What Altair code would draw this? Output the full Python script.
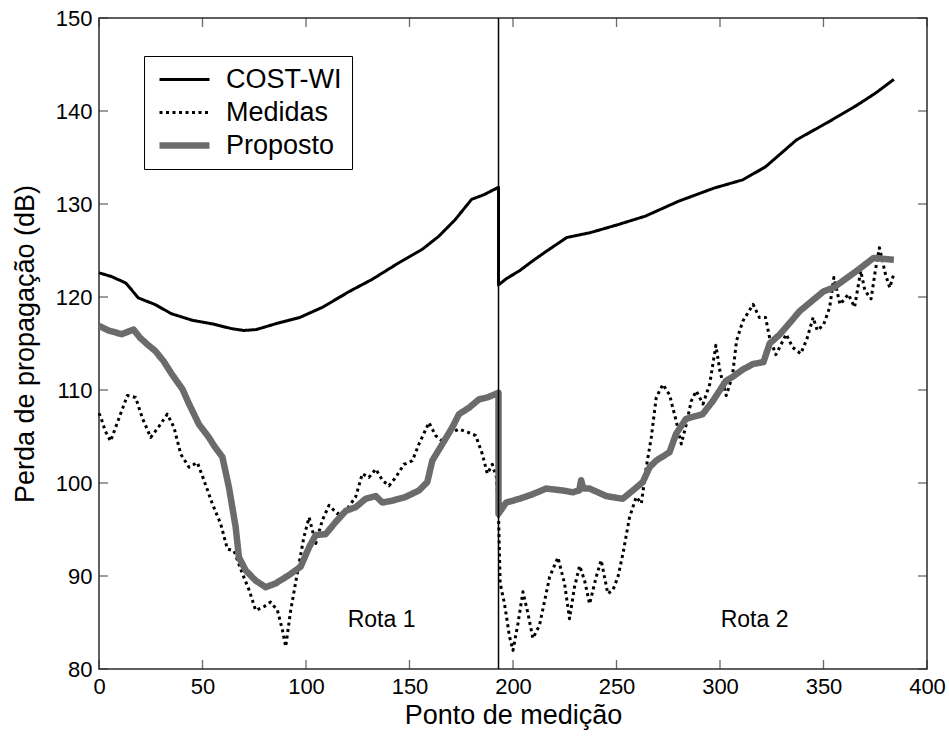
import altair as alt
import pandas as pd

# ---------------- data ----------------
series_names = ["COST-WI", "Medidas", "Proposto"]

cost_x = [0, 6, 13, 19, 27, 35, 45, 55, 64, 70, 76, 85, 97, 108, 121, 132, 145, 156, 164, 172,
          180, 186, 193, 193, 197, 203, 209, 216, 226, 237, 251, 264, 280, 297, 311, 322, 337,
          353, 366, 375, 384]
cost_y = [122.6, 122.2, 121.5, 119.9, 119.2, 118.2, 117.5, 117.1, 116.6, 116.4, 116.5, 117.1,
          117.8, 118.9, 120.6, 121.9, 123.7, 125.1, 126.5, 128.3, 130.5, 131.0, 131.8, 121.3,
          122.0, 122.8, 123.8, 124.9, 126.4, 126.9, 127.8, 128.7, 130.3, 131.7, 132.6, 134.0,
          136.9, 138.9, 140.6, 141.9, 143.4]

med_x = [0, 1, 3, 5.6, 9.7, 13.7, 17.7, 20.9, 25, 29, 33, 36.2, 39.5, 43.5, 47.5, 50.7, 54.7,
         58.8, 62, 65.2, 69.2, 72.5, 75.7, 79.7, 82.9, 86.2, 88.6, 90.2, 92.6, 95.8, 99, 101.5,
         104.7, 107.9, 111.1, 115.1, 119.2, 124, 127.2, 130.4, 133.7, 136.9, 140.1, 143.3,
         147.3, 151.4, 154.6, 159.4, 162.6, 165.9, 169.9, 173.9, 178.8, 182, 185.2, 187.6, 190,
         192, 193, 193.8, 195.9, 198.3, 200, 202.4, 204.8, 207.2, 209.6, 212.8, 217.7, 221.7,
         224.9, 227.3, 229.7, 232.2, 234.6, 237, 240.2, 242.6, 245.8, 248.3, 250.7, 253.1,
         256.3, 259.5, 262, 264.4, 266.8, 269.2, 272.4, 275.6, 278.8, 281.3, 283.7, 286.1,
         288.5, 291.8, 295, 298, 300, 303, 306, 308, 311, 316, 319, 322, 324, 327, 332, 335,
         339, 342, 345, 347, 350, 353, 355, 358, 362, 365, 368, 370, 373, 375, 377, 380, 382,
         384]
med_y = [107.5, 107.0, 105.6, 104.5, 107.0, 109.4, 109.2, 107.0, 104.9, 106.1, 107.4, 106.0,
         103.1, 101.7, 102.2, 100.3, 97.8, 95.6, 92.9, 92.7, 90.3, 88.5, 86.3, 86.7, 87.2, 86.3,
         84.2, 82.4, 86.3, 90.3, 94.2, 96.3, 93.5, 96.0, 97.6, 96.7, 97.0, 98.5, 101.0, 100.6,
         101.5, 100.3, 99.7, 100.6, 102.0, 102.4, 104.2, 106.5, 105.1, 104.5, 105.4, 105.8,
         105.4, 105.1, 103.1, 101.0, 102.0, 100.6, 96.7, 89.2, 87.0, 83.5, 82.0, 84.9, 88.3,
         86.0, 83.3, 84.7, 89.9, 92.0, 89.2, 85.4, 88.8, 91.1, 89.5, 87.0, 89.9, 91.7, 88.1,
         88.5, 89.9, 92.4, 96.3, 98.5, 97.8, 101.7, 104.9, 109.2, 110.6, 109.5, 106.7, 104.2,
         106.3, 108.8, 109.9, 108.5, 110.6, 114.8, 112.0, 109.4, 111.5, 115.3, 117.4, 119.2,
         117.8, 117.8, 115.6, 113.8, 116.0, 114.6, 113.9, 115.5, 117.8, 116.4, 117.0, 118.9,
         122.1, 119.2, 120.3, 118.9, 122.8, 120.7, 119.8, 122.8, 125.3, 122.4, 121.0, 122.5]

prop_x = [0, 4.6, 11, 16.7, 19.9, 23.9, 27.2, 31.2, 35.2, 40.3, 43.5, 48.3, 53.1, 55.6, 59.6,
          62.8, 66, 67.6, 70.9, 75.7, 80.5, 85.3, 91.8, 97.4, 101.5, 104.7, 109.5, 114.3, 119.2,
          124, 128.8, 133.7, 136.9, 141.7, 148.1, 154.6, 158.6, 161, 165.9, 170.7, 173.9, 178.8,
          183.6, 187.6, 193, 193, 196.7, 203.1, 209.6, 216, 224, 228.9, 232, 232.9, 234, 237,
          245, 253, 257.9, 262.7, 266, 269.1, 275.6, 278.8, 283.6, 291.6, 296.5, 302.9, 306,
          311, 316, 321, 324, 329, 338.6, 350, 354.8, 366, 374.2, 384]
prop_y = [116.9, 116.4, 116.0, 116.5, 115.6, 114.8, 114.2, 113.1, 111.7, 110.1, 108.5, 106.3,
          104.9, 104.0, 102.8, 99.5, 95.3, 92.0, 90.6, 89.5, 88.8, 89.2, 90.1, 91.0, 93.1, 94.4,
          94.5, 95.8, 97.0, 97.4, 98.3, 98.6, 97.9, 98.1, 98.5, 99.2, 100.1, 102.4, 104.2, 106.0,
          107.4, 108.1, 109.0, 109.2, 109.7, 96.7, 97.9, 98.3, 98.8, 99.4, 99.2, 99.0, 99.2,
          100.3, 99.4, 99.4, 98.6, 98.3, 99.2, 100.1, 101.7, 102.4, 103.3, 105.3, 106.9, 107.4,
          108.8, 111.0, 111.4, 112.2, 112.8, 113.0, 115.0, 116.0, 118.5, 120.6, 121.0, 122.8,
          124.2, 124.0]

x_ticks = [0, 50, 100, 150, 200, 250, 300, 350, 400]
y_ticks = [80, 90, 100, 110, 120, 130, 140, 150]
route_split = [193]
rota_labels = ["Rota 1", "Rota 2"]
rota_x = [136.5, 316.7]
rota_y = [85.3, 85.3]

# ---------------- build tables ----------------
line_widths = {"COST-WI": 3, "Medidas": 3, "Proposto": 6.5}
rows = []
for name, xs, ys in [("COST-WI", cost_x, cost_y), ("Medidas", med_x, med_y),
                     ("Proposto", prop_x, prop_y)]:
    for i, (a, b) in enumerate(zip(xs, ys)):
        rows.append({"serie": name, "ponto": a, "perda": b, "idx": i,
                     "w": line_widths[name]})
lines_df = pd.DataFrame(rows)
xt_df = pd.DataFrame({"t": x_ticks})
yt_df = pd.DataFrame({"t": y_ticks})
split_df = pd.DataFrame({"s": route_split})
rota_df = pd.DataFrame({"label": rota_labels, "x": rota_x, "y": rota_y})

FONT = "Liberation Sans"
FRAME = "#2b2b2b"

xscale = alt.Scale(domain=[0, 400], nice=False, zero=False)
yscale = alt.Scale(domain=[80, 150], nice=False, zero=False)

legend = alt.Legend(title=None, orient="none", legendX=45, legendY=38,
                    symbolType="M-2.5,0L2.5,0", symbolSize=400,
                    symbolOffset=17, labelOffset=28, rowPadding=5,
                    symbolStrokeWidth=alt.ExprRef("datum.value === 'Proposto' ? 6.5 : 3"),
                    labelFont=FONT, labelFontSize=27, labelColor="#000",
                    padding=10, fillColor="white", strokeColor="#000")

lines = alt.Chart(lines_df).mark_line(strokeCap="butt", strokeJoin="round").encode(
    x=alt.X("ponto:Q", scale=xscale,
            axis=alt.Axis(title="Ponto de medição", values=x_ticks, grid=False, ticks=False,
                          tickSize=0, domain=False, labelPadding=7, labelFontSize=22,
                          labelFont=FONT, labelColor="#000", labelFlush=False,
                          titleFont=FONT, titleFontSize=27, titleFontWeight="normal",
                          titleColor="#000", titlePadding=5)),
    y=alt.Y("perda:Q", scale=yscale,
            axis=alt.Axis(title="Perda de propagação (dB)", values=y_ticks, grid=False,
                          ticks=False, tickSize=0, domain=False, labelPadding=7,
                          labelFontSize=22, labelFont=FONT, labelColor="#000",
                          labelFlush=False, titleFont=FONT, titleFontSize=27,
                          titleFontWeight="normal", titleColor="#000", titlePadding=16)),
    color=alt.Color("serie:N",
                    scale=alt.Scale(domain=series_names, range=["#000000", "#000000", "#6b6b6b"]),
                    legend=legend),
    strokeDash=alt.StrokeDash("serie:N",
                              scale=alt.Scale(domain=series_names,
                                              range=[[1, 0], [3, 3.5], [1, 0]]),
                              legend=legend),
    strokeWidth=alt.StrokeWidth("w:Q", scale=None, legend=None),
    order=alt.Order("idx:Q"),
    detail="serie:N",
)

split = alt.Chart(split_df).mark_rule(color="#000", strokeWidth=1.5).encode(
    x=alt.X("s:Q", scale=xscale), y=alt.datum(80), y2=alt.datum(150))

tick_style = dict(color=FRAME, thickness=1.3, size=9)
t_bottom = alt.Chart(xt_df).mark_tick(orient="vertical", yOffset=-4.5, **tick_style).encode(
    x=alt.X("t:Q", scale=xscale), y=alt.datum(80))
t_top = alt.Chart(xt_df).mark_tick(orient="vertical", yOffset=4.5, **tick_style).encode(
    x=alt.X("t:Q", scale=xscale), y=alt.datum(150))
t_left = alt.Chart(yt_df).mark_tick(orient="horizontal", xOffset=4.5, **tick_style).encode(
    y=alt.Y("t:Q", scale=yscale), x=alt.datum(0))
t_right = alt.Chart(yt_df).mark_tick(orient="horizontal", xOffset=-4.5, **tick_style).encode(
    y=alt.Y("t:Q", scale=yscale), x=alt.datum(400))

rota = alt.Chart(rota_df).mark_text(font=FONT, fontSize=23, color="#000",
                                    baseline="middle", align="center").encode(
    x=alt.X("x:Q", scale=xscale), y=alt.Y("y:Q", scale=yscale), text="label:N")

chart = alt.layer(lines, split, t_bottom, t_top, t_left, t_right, rota).properties(
    width=828, height=651,
    autosize=alt.AutoSizeParams(type="none"),
    padding={"left": 99, "top": 18, "right": 22, "bottom": 71},
    background="white",
).configure_view(stroke=FRAME, strokeWidth=1.5)

chart.save("out.html", embed_options={"renderer": "svg", "actions": False})
